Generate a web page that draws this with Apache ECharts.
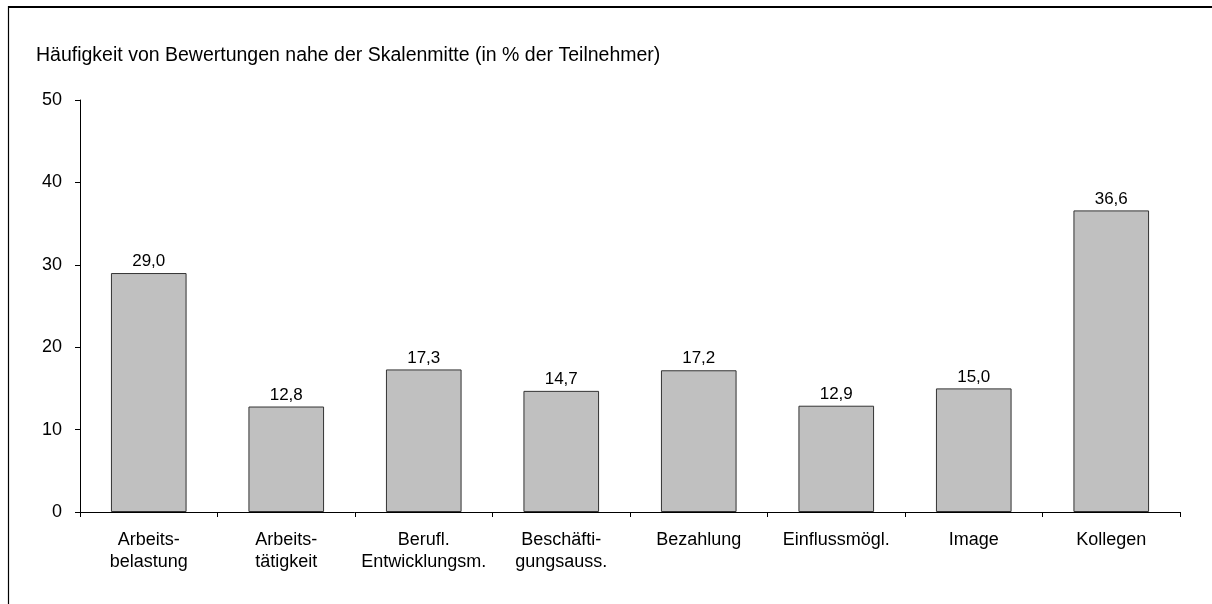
<!DOCTYPE html>
<html><head><meta charset="utf-8">
<script src="https://cdn.jsdelivr.net/npm/echarts@6/dist/echarts.min.js"></script>
<style>html,body{margin:0;padding:0;background:#fff}#c{width:1212px;height:604px}</style>
</head><body><div id="c"></div>
<script>
const categories = ["Arbeits-\nbelastung","Arbeits-\ntätigkeit","Berufl.\nEntwicklungsm.","Beschäfti-\ngungsauss.","Bezahlung","Einflussmögl.","Image","Kollegen"];
const values = [29.0, 12.8, 17.3, 14.7, 17.2, 12.9, 15.0, 36.6];
const yTicks = [0, 10, 20, 30, 40, 50];
const titleText = "Häufigkeit von Bewertungen nahe der Skalenmitte (in % der Teilnehmer)";

const FONT = "Liberation Sans, Arial, sans-serif";
const chart = echarts.init(document.getElementById('c'), null, {renderer:'canvas'});
chart.setOption({
  animation:false,
  backgroundColor:'#fff',
  title:{text:titleText,left:31,top:41,textStyle:{fontFamily:FONT,fontSize:19.5,fontWeight:'normal',color:'#000'}},
  graphic:[
    {type:'line',shape:{x1:8,y1:7,x2:1212,y2:7},style:{stroke:'#000',lineWidth:2}},
    {type:'line',shape:{x1:8.5,y1:6,x2:8.5,y2:604},style:{stroke:'#000',lineWidth:1.2}}
  ],
  grid:{left:80,right:32,top:100,bottom:92,containLabel:false},
  xAxis:{type:'category',data:categories,
    axisLine:{lineStyle:{color:'#000',width:1}},
    axisTick:{show:true,length:5,lineStyle:{color:'#000'}},
    axisLabel:{fontFamily:FONT,fontSize:18,color:'#000',margin:17,lineHeight:22,interval:0}},
  yAxis:{type:'value',min:yTicks[0],max:yTicks[yTicks.length-1],interval:10,
    axisLine:{show:true,lineStyle:{color:'#000',width:1}},
    axisTick:{show:true,length:5,lineStyle:{color:'#000'}},
    splitLine:{show:false},
    axisLabel:{fontFamily:FONT,fontSize:18,color:'#000',margin:18}},
  series:[{type:'bar',data:values,barCategoryGap:'45%',
    itemStyle:{color:'#c0c0c0',borderColor:'#333',borderWidth:1},
    label:{show:true,position:'top',distance:3,fontFamily:FONT,fontSize:17,color:'#000',
      formatter:p=>p.value.toFixed(1).replace('.',',')}}]
});
</script></body></html>
